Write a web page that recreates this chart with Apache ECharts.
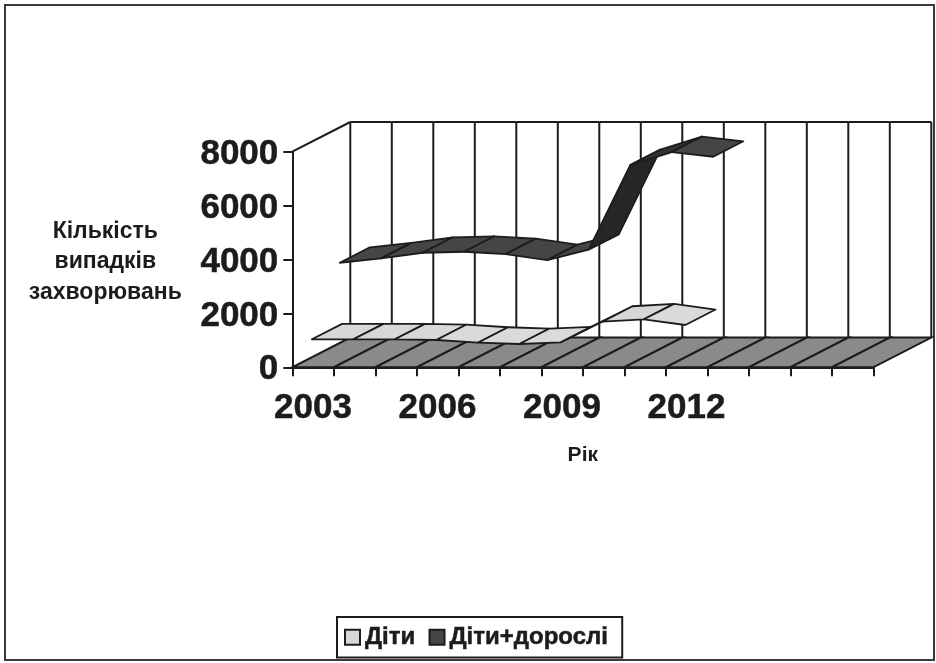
<!DOCTYPE html>
<html><head><meta charset="utf-8">
<style>html,body{margin:0;padding:0;background:#fff}#c{width:936px;height:663px}</style>
<script src="https://cdn.jsdelivr.net/npm/echarts@6/dist/echarts.min.js"></script>
</head><body><div id="c"></div>
<script>
const categories = ['2003','2004','2005','2006','2007','2008','2009','2010','2011','2012','2013','2014','2015','2016'];
const tickLabels = ['2003','','','2006','','','2009','','','2012','','','',''];
const yTicks = [0,2000,4000,6000,8000];
const children = [1061,1061,1061,1035,935,887,950,1714,1803,1592];
const total = [3373,3536,3744,3781,3696,3473,3863,6998,7480,7306];
const yTitleLines = ['Кількість','випадків','захворювань'];
const depthX = 58, depthY = -29.7;
const font = '"Liberation Sans", Arial, sans-serif';
const ink = '#1c1c1c';
const heavy = {textBorderColor:ink, textBorderWidth:0.5};

function proj(pt, d){ return [pt[0] + depthX*d, pt[1] + depthY*d]; }

function floorItem(params, api){
  const i = api.value(0);
  const c = api.coord([i, 0]), b = api.size([1, 0])[0];
  const l = [c[0]-b/2, c[1]], r = [c[0]+b/2, c[1]];
  return {type:'polygon', shape:{points:[l, r, proj(r,1), proj(l,1)]},
    style:{fill:'#8a8a8a', stroke:ink, lineWidth:2}};
}
function wallItem(params, api){
  const i = api.value(0), n = categories.length;
  const c0 = api.coord([i, 0]), c1 = api.coord([i, 8000]), b = api.size([1, 0])[0];
  const kids = [];
  const line = (a, z) => ({type:'line', shape:{x1:a[0], y1:a[1], x2:z[0], y2:z[1]},
    style:{stroke:ink, lineWidth:2}});
  const lb = proj([c0[0]-b/2, c0[1]], 1), lt = proj([c1[0]-b/2, c1[1]], 1);
  const rt = proj([c1[0]+b/2, c1[1]], 1), rb = proj([c0[0]+b/2, c0[1]], 1);
  kids.push(line(lb, lt), line(lt, rt));
  if (i === 0) kids.push(line([c1[0]-b/2, c1[1]], lt));
  if (i === n-1) kids.push(line(rb, rt));
  return {type:'group', children:kids};
}
function ribbon(d0, d1, fills){
  return function(params, api){
    const i = api.value(0);
    const a = api.coord([i, api.value(1)]), z = api.coord([i+1, api.value(2)]);
    return {type:'polygon',
      shape:{points:[proj(a,d0), proj(z,d0), proj(z,d1), proj(a,d1)]},
      style:{fill:fills[i] , stroke:ink, lineWidth:1.8, lineJoin:'round'}};
  };
}
function segs(v){ return v.slice(0,-1).map((y,i)=>[i, y, v[i+1]]); }

const lightFills = ['#d8d8d8','#d8d8d8','#d8d8d8','#dadada','#dadada','#dadada','#f4f4f4','#d6d6d6','#dadada'];
const darkFills = ['#454545','#454545','#454545','#454545','#454545','#454545','#262626','#333333','#454545'];

echarts.init(document.getElementById('c'), null, {renderer:'canvas'}).setOption({
  animation:false,
  backgroundColor:'#fff',
  graphic:[{type:'rect', silent:true, z:-1,
    shape:{x:5, y:5, width:929, height:655},
    style:{fill:'none', stroke:'#3a3a3a', lineWidth:2}}],
  grid:{left:292.3, right:62.7, top:151.7, bottom:295.7, containLabel:false},
  legend:{left:337, top:617, padding:[8,14,8,7], itemGap:13, itemWidth:15, itemHeight:15,
    backgroundColor:'#fff', borderColor:ink, borderWidth:2, borderRadius:0,
    textStyle:{fontFamily:font, fontWeight:'bold', fontSize:24, color:ink, ...heavy},
    icon:'rect',
    data:[{name:'Діти', itemStyle:{color:'#d8d8d8', borderColor:ink, borderWidth:2}},
          {name:'Діти+дорослі', itemStyle:{color:'#454545', borderColor:ink, borderWidth:2}}]},
  xAxis:{type:'category', data:categories, boundaryGap:true,
    name:'Рік', nameLocation:'middle', nameGap:77,
    nameTextStyle:{fontFamily:font, fontWeight:'bold', fontSize:21, color:ink},
    axisLine:{lineStyle:{color:ink, width:2}},
    axisTick:{show:true, length:9, alignWithLabel:false, interval:0, lineStyle:{color:ink, width:2}},
    axisLabel:{interval:0, margin:24, fontFamily:font, fontWeight:'bold', fontSize:35, color:ink, ...heavy,
      formatter:(v,i)=>tickLabels[i]}},
  yAxis:{type:'value', min:0, max:8000, interval:2000,
    name:yTitleLines.map(s=>'{t|'+s+'}').join('\n'), nameLocation:'middle', nameGap:187, nameRotate:0,
    nameTextStyle:{align:'center', verticalAlign:'middle',
      rich:{t:{fontFamily:font, fontWeight:'bold', fontSize:23, color:ink, height:30.5, lineHeight:30.5, padding:[5,0,0,0], align:'center'}}},
    splitLine:{show:false},
    axisLine:{show:true, lineStyle:{color:ink, width:2}},
    axisTick:{show:true, length:9, lineStyle:{color:ink, width:2}},
    axisLabel:{margin:14,
      rich:{n:{fontFamily:font, fontWeight:'bold', fontSize:35, color:ink, ...heavy, padding:[5,0,0,0]}},
      formatter:v=>yTicks.includes(v)?'{n|'+v+'}':''}},
  series:[
    {type:'custom', name:'floor', silent:true, z:1, renderItem:floorItem, data:categories.map((c,i)=>[i]), encode:{x:0}},
    {type:'custom', name:'wall', silent:true, z:1, renderItem:wallItem, data:categories.map((c,i)=>[i]), encode:{x:0}},
    {type:'custom', name:'Діти', z:3, renderItem:ribbon(-0.02,0.5,lightFills), data:segs(children), encode:{x:0,y:1},
      itemStyle:{color:'#d8d8d8'}},
    {type:'custom', name:'Діти+дорослі', z:4, renderItem:ribbon(0.46,0.98,darkFills), data:segs(total), encode:{x:0,y:1},
      itemStyle:{color:'#454545'}}
  ]
});
</script></body></html>
